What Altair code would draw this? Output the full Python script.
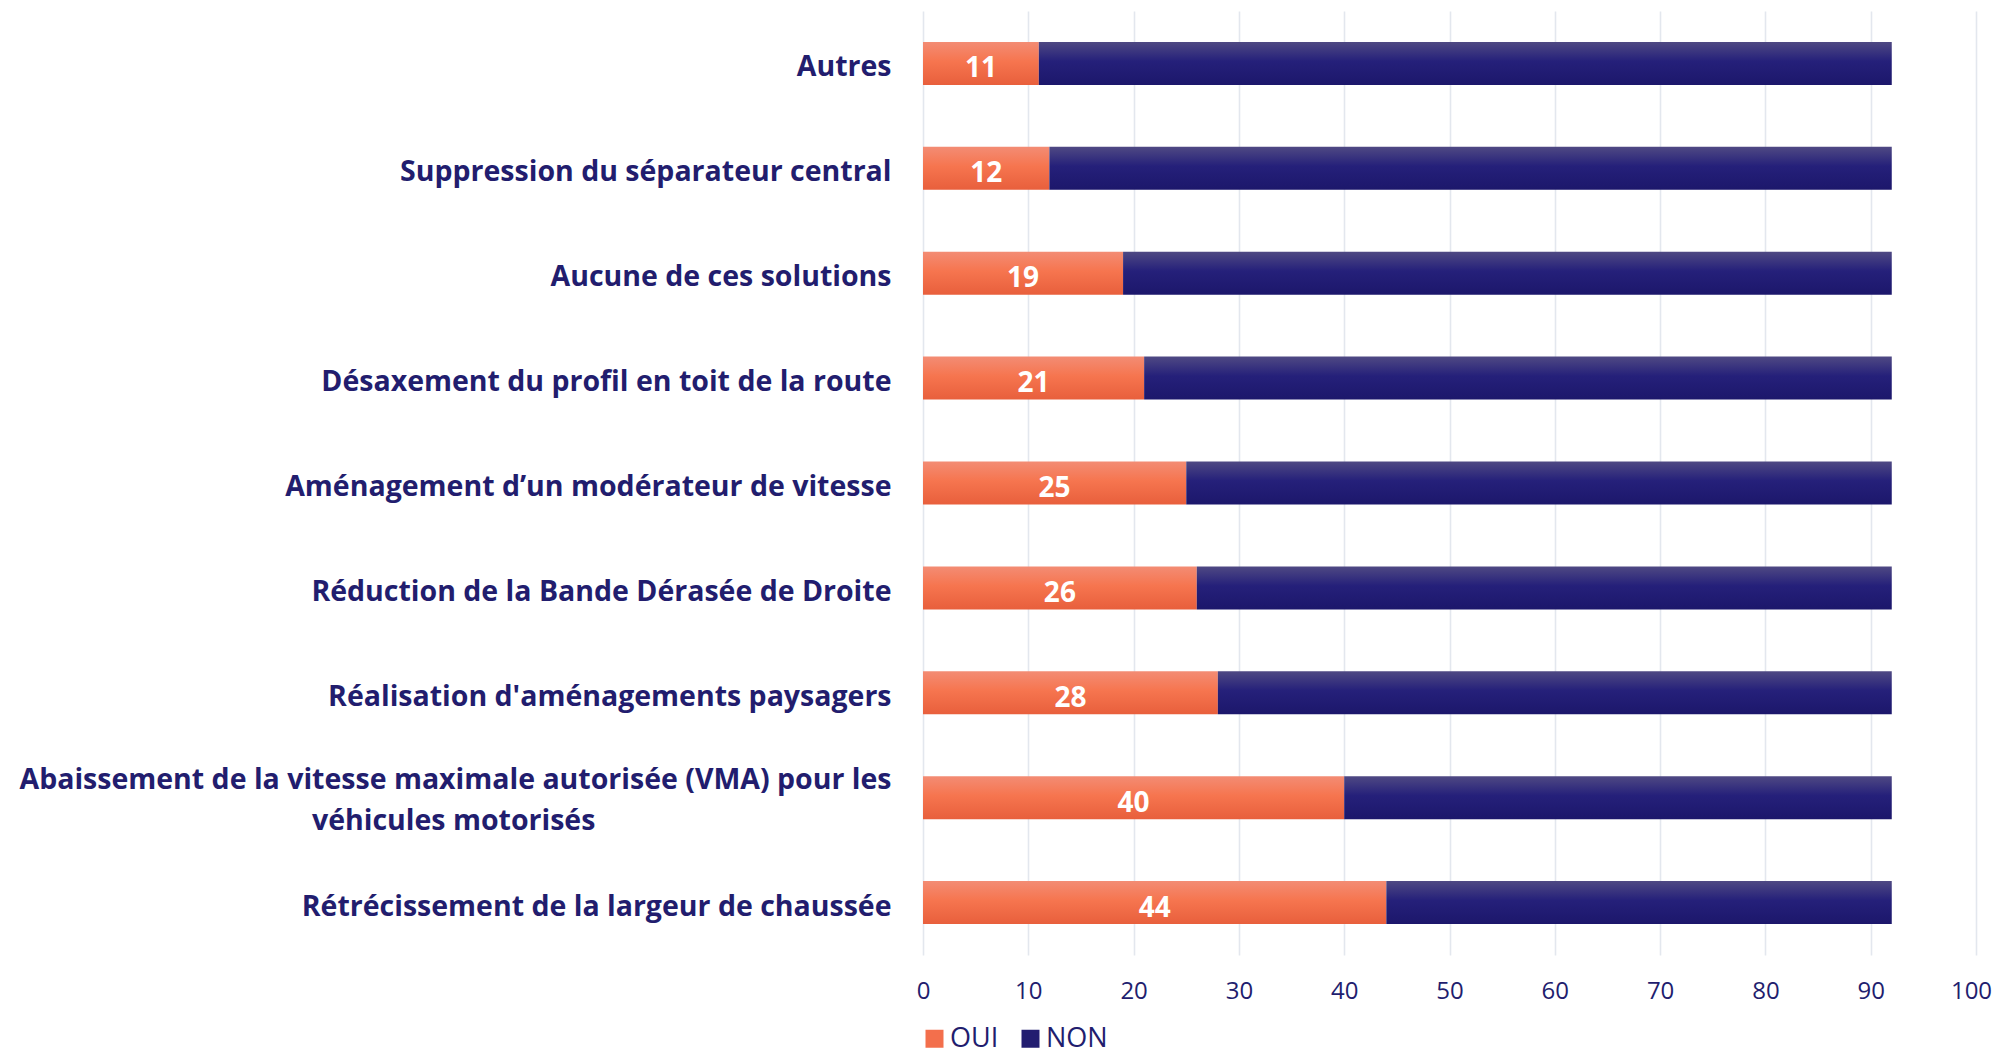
import altair as alt
import pandas as pd

NBSP = "\u00a0"
ZWSP = "\u200b"
categories = [
    "Autres",
    "Suppression du séparateur central",
    "Aucune de ces solutions",
    "Désaxement du profil en toit de la route",
    "Aménagement d’un modérateur de vitesse",
    "Réduction de la Bande Dérasée de Droite",
    "Réalisation d'aménagements paysagers",
    "Abaissement de la vitesse maximale autorisée (VMA) pour les|véhicules motorisés" + NBSP * 40 + ZWSP,
    "Rétrécissement de la largeur de chaussée",
]
oui = [11, 12, 19, 21, 25, 26, 28, 40, 44]
non = [81, 80, 73, 71, 67, 66, 64, 52, 48]
series = ["OUI", "NON"]
x_ticks = list(range(0, 101, 10))

NAVY = "#221d6e"
FONT = "Open Sans"

rows = []
for c, o, n in zip(categories, oui, non):
    rows.append({"category": c, "series": "OUI", "value": o, "order": 0})
    rows.append({"category": c, "series": "NON", "value": n, "order": 1})
df = pd.DataFrame(rows)

grad_oui = {
    "gradient": "linear", "x1": 0, "y1": 0, "x2": 0, "y2": 1,
    "stops": [
        {"offset": 0, "color": "#f38c74"},
        {"offset": 0.45, "color": "#f6754f"},
        {"offset": 1, "color": "#e85f3c"},
    ],
}
grad_non = {
    "gradient": "linear", "x1": 0, "y1": 0, "x2": 0, "y2": 1,
    "stops": [
        {"offset": 0, "color": "#4f4983"},
        {"offset": 0.45, "color": "#25207a"},
        {"offset": 1, "color": "#1c176b"},
    ],
}

y_enc = alt.Y(
    "category:N",
    sort=categories,
    title=None,
    scale=alt.Scale(paddingInner=0.59, paddingOuter=0.295),
    axis=alt.Axis(
        domain=False, ticks=False, labelFont=FONT, labelFontSize=28.5,
        labelFontWeight="bold", labelColor=NAVY, labelPadding=32,
        labelLimit=1200, labelLineHeight=41,
        labelExpr="split(datum.label, '|')",
        labelOffset={
            "condition": {"test": "indexof(datum.value, '|') >= 0", "value": -18},
            "value": 4,
        },
    ),
)
x_scale = alt.Scale(domain=[0, 100], nice=False)

base = alt.Chart(df).transform_stack(
    stack="value", groupby=["category"], as_=["v0", "v1"],
    sort=[alt.SortField("order", "ascending")],
)

x_axis = alt.Axis(
    values=x_ticks, domain=False, ticks=False, grid=True,
    gridColor="#e3e7ee", gridWidth=1.6, labelFont=FONT, labelFontSize=24,
    labelColor=NAVY, labelPadding=24, labelFlush=False, title=None,
    labelOffset={"condition": {"test": "datum.value == 100", "value": -5}, "value": 0},
)

bars_oui = base.transform_filter(alt.datum.series == "OUI").mark_bar(
    fill=grad_oui
).encode(x=alt.X("v0:Q", scale=x_scale, axis=x_axis), x2="v1:Q", y=y_enc)

bars_non = base.transform_filter(alt.datum.series == "NON").mark_bar(
    fill=grad_non
).encode(x=alt.X("v0:Q", scale=x_scale), x2="v1:Q", y=y_enc)

text_oui = base.transform_filter(alt.datum.series == "OUI").transform_calculate(
    mid="(datum.v0 + datum.v1) / 2"
).mark_text(
    color="white", font=FONT, fontSize=28, fontWeight="bold",
    baseline="middle", dy=6,
).encode(x=alt.X("mid:Q", scale=x_scale), y=y_enc, text="value:Q")

legend_layer = alt.Chart(df).mark_square(opacity=0).encode(
    color=alt.Color(
        "series:N",
        scale=alt.Scale(domain=series, range=["#f36f4c", "#221d70"]),
        legend=alt.Legend(
            title=None, orient="none", legendX=-2, legendY=1014,
            direction="horizontal", symbolType="square", symbolSize=324,
            symbolOpacity=1, symbolStrokeWidth=0, labelFont=FONT,
            labelFontSize=27, labelColor=NAVY, labelOffset=2,
            columnPadding=18,
        ),
    )
)

chart = alt.layer(bars_oui, bars_non, text_oui, legend_layer).properties(
    width=1053, height=944,
    autosize=alt.AutoSizeParams(type="none"),
    padding={"left": 915, "top": 3, "right": 16, "bottom": 99},
).configure(background="white").configure_view(stroke=None)

chart.save("out.html", embed_options={"renderer": "svg", "actions": False})
